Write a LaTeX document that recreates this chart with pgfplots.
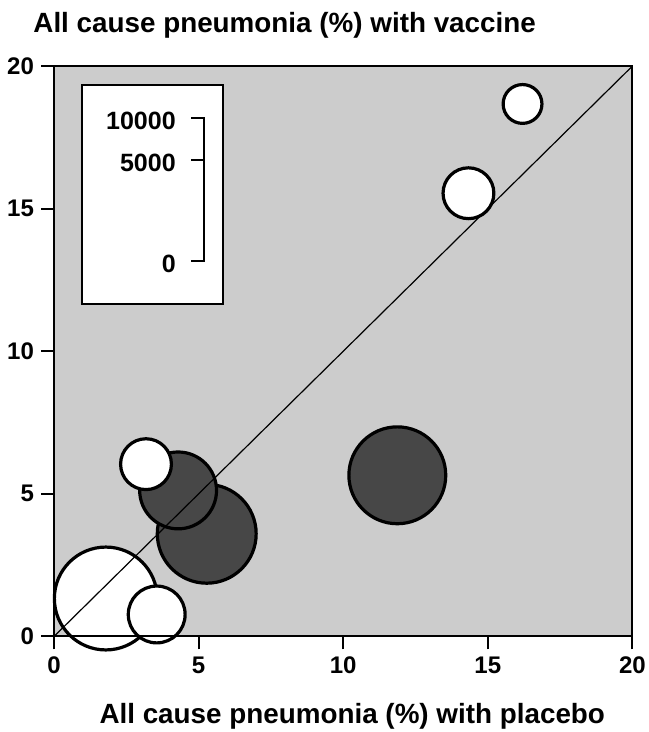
\documentclass[border=0pt]{standalone}
\usepackage{fontspec}
\setmainfont{Liberation Sans}
\usepackage{pgfplots}
\usepackage{pgfplotstable}
\pgfplotsset{compat=1.18}

\definecolor{bggray}{HTML}{CCCCCC}
\definecolor{darkfill}{HTML}{474747}

% x, y in %, r = marker radius (pt)
\pgfplotstableread{
x y r
5.28 3.60 24.7
4.29 5.12 19.2
11.87 5.65 24.2
}\darkpts
\pgfplotstableread{
x y r
1.79 1.33 25.7
3.55 0.77 14.2
3.18 6.04 12.7
14.33 15.54 12.7
16.20 18.67 9.7
}\whitepts

\begin{document}
\begin{tikzpicture}
\useasboundingbox (-27pt,-47.75pt) rectangle (297pt,318pt);
\begin{axis}[
    scale only axis,
    width=289pt, height=285pt,
    xmin=0, xmax=20, ymin=0, ymax=20,
    xtick={0,5,10,15,20}, ytick={0,5,10,15,20},
    tick align=outside,
    xtick pos=bottom, ytick pos=left,
    major tick length=6.5pt,
    tick style={black, line width=1pt},
    axis line style={line width=1pt},
    axis background/.style={fill=bggray},
    axis on top,
    clip=false,
    clip marker paths=true,
    /pgf/number format/assume math mode=true,
    ticklabel style={font=\fontsize{12}{14}\selectfont\bfseries},
]
% bubbles
\addplot[only marks, scatter, mark=*,
    mark options={line width=1.6pt},
    scatter/use mapped color={draw=black, fill=darkfill},
    visualization depends on={\thisrow{r}\as\rad},
    scatter/@pre marker code/.append style={/tikz/mark size=\rad}]
    table[x=x, y=y] {\darkpts};
\addplot[only marks, scatter, mark=*,
    mark options={line width=1.6pt},
    scatter/use mapped color={draw=black, fill=white},
    visualization depends on={\thisrow{r}\as\rad},
    scatter/@pre marker code/.append style={/tikz/mark size=\rad}]
    table[x=x, y=y] {\whitepts};
% line of equality, above the bubbles
\addplot[black, line width=0.6pt] coordinates {(0,0) (20,20)};

% size key
\draw[fill=white, line width=1pt] (axis cs:0.97,11.67) rectangle (axis cs:5.85,19.32);
\draw[line width=1pt] (axis cs:4.74,18.19) -- (axis cs:5.19,18.19) -- (axis cs:5.19,13.18) -- (axis cs:4.74,13.18);
\draw[line width=1pt] (axis cs:4.74,16.72) -- (axis cs:5.19,16.72);
\begin{scope}[every node/.style={anchor=east, inner sep=0pt, yshift=-1.5pt, font=\fontsize{12.5}{14}\selectfont\bfseries}]
\node at (axis cs:4.22,18.19) {10000};
\node at (axis cs:4.22,16.72) {5000};
\node at (axis cs:4.22,13.18) {0};
\end{scope}

% axis titles
\node[anchor=base west, inner sep=0pt, xshift=-10.5pt, yshift=17pt, font=\fontsize{13.9}{16}\selectfont\bfseries]
    at (rel axis cs:0,1) {All cause pneumonia (\%) with vaccine};
\node[anchor=base, inner sep=0pt, xshift=4.5pt, yshift=-43.75pt, font=\fontsize{13.9}{16}\selectfont\bfseries]
    at (rel axis cs:0.5,0) {All cause pneumonia (\%) with placebo};
\end{axis}
\end{tikzpicture}
\end{document}
